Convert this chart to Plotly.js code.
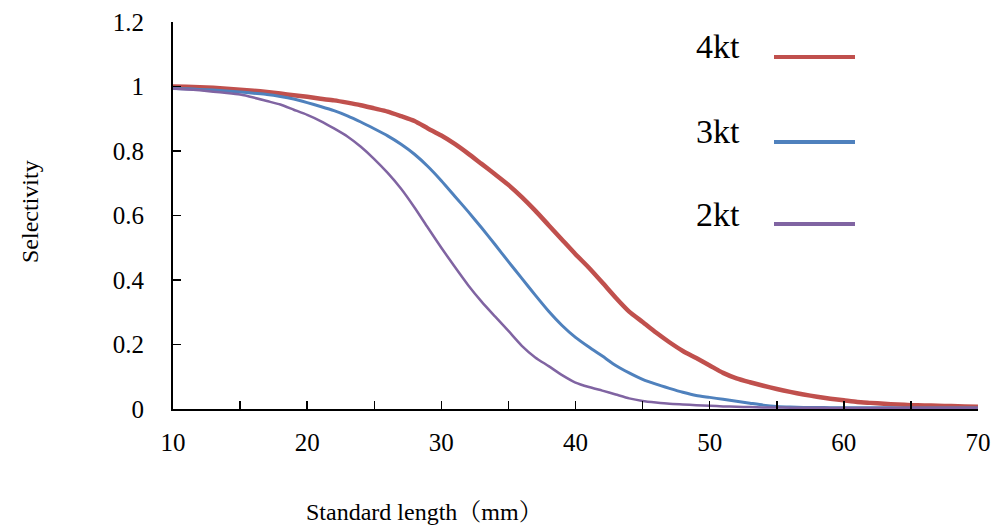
<!DOCTYPE html>
<html>
<head>
<meta charset="utf-8">
<script src="https://cdn.plot.ly/plotly-3.0.1.min.js"></script>
<style>
  html, body { margin: 0; padding: 0; background: #ffffff; }
  #chart { width: 997px; height: 532px; }
</style>
</head>
<body>
<div id="chart"></div>
<script>
// Standard length (mm), one value per millimetre
const lengthMm = [
  10, 11, 12, 13, 14, 15, 16, 17, 18, 19,
  20, 21, 22, 23, 24, 25, 26, 27, 28, 29,
  30, 31, 32, 33, 34, 35, 36, 37, 38, 39,
  40, 41, 42, 43, 44, 45, 46, 47, 48, 49,
  50, 51, 52, 53, 54, 55, 56, 57, 58, 59,
  60, 61, 62, 63, 64, 65, 66, 67, 68, 69, 70
];

// Selectivity at towing speed 4 kt
const sel4kt = [
  1.000, 0.999, 0.998, 0.996, 0.993, 0.990, 0.987, 0.983, 0.978, 0.973,
  0.968, 0.962, 0.957, 0.950, 0.942, 0.932, 0.922, 0.908, 0.893, 0.870,
  0.848, 0.822, 0.792, 0.760, 0.728, 0.695, 0.657, 0.615, 0.570, 0.525,
  0.480, 0.438, 0.392, 0.345, 0.302, 0.270, 0.237, 0.207, 0.180, 0.158,
  0.135, 0.112, 0.095, 0.083, 0.072, 0.062, 0.053, 0.045, 0.038, 0.032,
  0.027, 0.022, 0.019, 0.016, 0.014, 0.012, 0.011, 0.010, 0.009, 0.008, 0.007
];

// Selectivity at towing speed 3 kt
const sel3kt = [
  0.994, 0.993, 0.991, 0.989, 0.986, 0.983, 0.979, 0.975, 0.969, 0.961,
  0.950, 0.938, 0.925, 0.909, 0.890, 0.869, 0.847, 0.821, 0.790, 0.752,
  0.708, 0.660, 0.612, 0.562, 0.510, 0.457, 0.405, 0.353, 0.303, 0.259,
  0.222, 0.192, 0.164, 0.135, 0.112, 0.092, 0.077, 0.064, 0.052, 0.042,
  0.036, 0.030, 0.024, 0.018, 0.012, 0.008, 0.006, 0.005, 0.005, 0.004,
  0.004, 0.004, 0.004, 0.004, 0.003, 0.003, 0.003, 0.003, 0.003, 0.003, 0.003
];

// Selectivity at towing speed 2 kt
const sel2kt = [
  0.994, 0.991, 0.988, 0.984, 0.980, 0.975, 0.966, 0.955, 0.944, 0.928,
  0.912, 0.893, 0.870, 0.845, 0.813, 0.775, 0.732, 0.683, 0.625, 0.562,
  0.500, 0.441, 0.384, 0.333, 0.287, 0.242, 0.196, 0.160, 0.133, 0.105,
  0.082, 0.068, 0.057, 0.045, 0.033, 0.025, 0.020, 0.016, 0.014, 0.012,
  0.010, 0.008, 0.007, 0.006, 0.005, 0.005, 0.004, 0.004, 0.004, 0.003,
  0.003, 0.003, 0.003, 0.003, 0.003, 0.003, 0.003, 0.003, 0.003, 0.003, 0.003
];

const seriesNames = ['4kt', '3kt', '2kt'];
const seriesColors = ['#C0504D', '#4F81BD', '#8064A2'];
const seriesWidths = [4.5, 3, 2.5];
const seriesValues = [sel4kt, sel3kt, sel2kt];

const xTickVals = [10, 15, 20, 25, 30, 35, 40, 45, 50, 55, 60, 65, 70];
const xTickText = ['10', '', '20', '', '30', '', '40', '', '50', '', '60', '', '70'];
const yTickVals = [0, 0.2, 0.4, 0.6, 0.8, 1, 1.2];
const yTickText = ['0', '0.2', '0.4', '0.6', '0.8', '1', '1.2'];

const W = 997, H = 532;
const M = { l: 173, r: 19, t: 22, b: 123 };
const plotW = W - M.l - M.r, plotH = H - M.t - M.b;
// pixel position -> paper fraction
const px = x => (x - M.l) / plotW;
const py = y => (H - M.b - y) / plotH;

const SERIF = '"Liberation Serif", "Times New Roman", "Noto Serif CJK SC", "Noto Sans CJK SC", serif';

const traces = seriesValues.map((vals, i) => ({
  type: 'scatter',
  mode: 'lines',
  name: seriesNames[i],
  x: lengthMm,
  y: vals,
  line: { color: seriesColors[i], width: seriesWidths[i], shape: 'spline', smoothing: 0.6 },
  hoverinfo: 'x+y+name'
}));

// Key: label on the left, sample line on the right
const keyRows = [47, 131, 214];
const keyLineY = [57, 142, 224];
const annotations = seriesNames.map((name, i) => ({
  xref: 'paper', yref: 'paper',
  x: px(694), y: py(keyRows[i]),
  xanchor: 'left', yanchor: 'middle',
  text: name, showarrow: false,
  font: { family: SERIF, size: 34, color: '#000000' }
}));
const shapes = seriesNames.map((name, i) => ({
  type: 'line', xref: 'paper', yref: 'paper',
  x0: px(774), x1: px(855), y0: py(keyLineY[i]), y1: py(keyLineY[i]),
  line: { color: seriesColors[i], width: 4 }
}));

annotations.push({
  xref: 'paper', yref: 'paper',
  x: px(424), y: py(512),
  xanchor: 'center', yanchor: 'middle',
  text: 'Standard length（mm）', showarrow: false,
  font: { family: SERIF, size: 24, color: '#000000' }
});
annotations.push({
  xref: 'paper', yref: 'paper',
  x: px(30), y: py(212),
  xanchor: 'center', yanchor: 'middle',
  text: 'Selectivity', showarrow: false, textangle: -90,
  font: { family: SERIF, size: 24, color: '#000000' }
});

const layout = {
  width: W, height: H,
  margin: M,
  paper_bgcolor: '#ffffff',
  plot_bgcolor: '#ffffff',
  showlegend: false,
  font: { family: SERIF, size: 24, color: '#000000' },
  xaxis: {
    range: [10, 70],
    tickmode: 'array', tickvals: xTickVals, ticktext: xTickText,
    ticks: 'inside', ticklen: 8, tickwidth: 1.5, tickcolor: '#000000',
    ticklabelstandoff: 10,
    showline: true, linecolor: '#000000', linewidth: 2,
    showgrid: false, zeroline: false,
    tickfont: { family: SERIF, size: 25, color: '#000000' }
  },
  yaxis: {
    range: [0, 1.2],
    tickmode: 'array', tickvals: yTickVals, ticktext: yTickText,
    ticks: 'inside', ticklen: 8, tickwidth: 1.5, tickcolor: '#000000',
    ticklabelstandoff: 22,
    showline: true, linecolor: '#000000', linewidth: 2,
    showgrid: false, zeroline: false,
    tickfont: { family: SERIF, size: 25, color: '#000000' }
  },
  annotations: annotations,
  shapes: shapes
};

Plotly.newPlot('chart', traces, layout, { displayModeBar: false, staticPlot: true });
</script>
</body>
</html>
